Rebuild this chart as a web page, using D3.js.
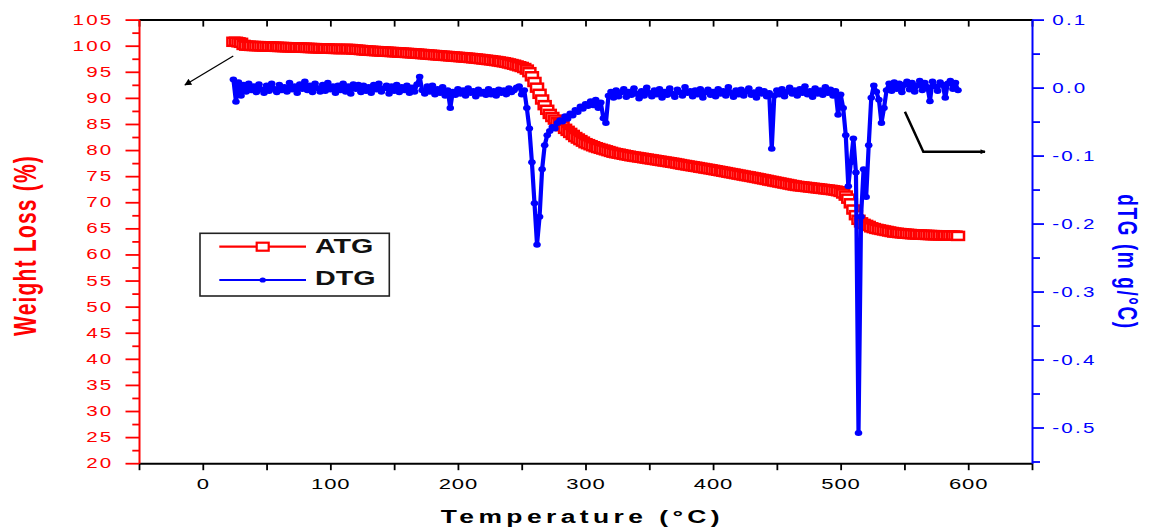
<!DOCTYPE html>
<html><head><meta charset="utf-8">
<script src="https://cdn.jsdelivr.net/npm/d3@7"></script>
<style>
html,body{margin:0;padding:0;background:#fff;}
svg{display:block;font-family:"Liberation Sans",Arial,sans-serif;}
</style></head><body>
<svg id="chart" width="1152" height="529"></svg>
<script>
// ---------------- data ----------------
const temperature = [
 24,26,28,30,32,34,36,38,40,42,
 44,46,48,50,52,54,56,58,60,62,
 64,66,68,70,72,74,76,78,80,82,
 84,86,88,90,92,94,96,98,100,102,
 104,106,108,110,112,114,116,118,120,122,
 124,126,128,130,132,134,136,138,140,142,
 144,146,148,150,152,154,156,158,160,162,
 164,166,168,170,172,174,176,178,180,182,
 184,186,188,190,192,194,196,198,200,202,
 204,206,208,210,212,214,216,218,220,222,
 224,226,228,230,232,234,236,238,240,242,
 244,246,248,250,252,254,256,258,260,262,
 264,266,268,270,272,274,276,278,280,282,
 284,286,288,290,292,294,296,298,300,302,
 304,306,308,310,312,314,316,318,320,322,
 324,326,328,330,332,334,336,338,340,342,
 344,346,348,350,352,354,356,358,360,362,
 364,366,368,370,372,374,376,378,380,382,
 384,386,388,390,392,394,396,398,400,402,
 404,406,408,410,412,414,416,418,420,422,
 424,426,428,430,432,434,436,438,440,442,
 444,446,448,450,452,454,456,458,460,462,
 464,466,468,470,472,474,476,478,480,482,
 484,486,488,490,492,494,496,498,500,502,
 504,506,508,510,512,514,516,518,520,522,
 524,526,528,530,532,534,536,538,540,542,
 544,546,548,550,552,554,556,558,560,562,
 564,566,568,570,572,574,576,578,580,582,
 584,586,588,590,592
];
// ATG, weight (%)
const atg = [
 100.75,100.75,100.65,100.55,100.15,100.01,99.99,99.96,99.94,99.92,
 99.91,99.89,99.87,99.86,99.84,99.82,99.8,99.78,99.76,99.75,
 99.73,99.71,99.7,99.69,99.67,99.65,99.63,99.62,99.6,99.58,
 99.56,99.54,99.53,99.51,99.49,99.47,99.46,99.44,99.42,99.4,
 99.39,99.37,99.35,99.37,99.39,99.37,99.35,99.29,99.25,99.22,
 99.17,99.12,99.07,99.05,99.02,98.99,98.96,98.93,98.9,98.87,
 98.85,98.82,98.79,98.76,98.73,98.7,98.67,98.64,98.61,98.58,
 98.55,98.52,98.48,98.44,98.4,98.36,98.32,98.28,98.24,98.2,
 98.16,98.12,98.08,98.05,98.01,97.97,97.93,97.89,97.85,97.81,
 97.77,97.73,97.69,97.64,97.59,97.54,97.49,97.43,97.37,97.31,
 97.25,97.2,97.13,97.06,96.98,96.9,96.82,96.72,96.6,96.48,
 96.36,96.21,96.06,95.92,95.72,95.42,94.93,94.14,93.05,91.96,
 90.78,89.69,88.61,87.72,86.93,86.34,85.84,85.35,84.96,84.56,
 84.07,83.68,83.29,82.9,82.5,82.21,81.91,81.62,81.32,81.13,
 80.93,80.73,80.54,80.39,80.24,80.1,79.95,79.8,79.65,79.5,
 79.4,79.31,79.21,79.11,79.01,78.92,78.82,78.75,78.67,78.59,
 78.52,78.44,78.36,78.28,78.2,78.13,78.05,77.97,77.89,77.81,
 77.74,77.66,77.58,77.5,77.41,77.31,77.21,77.14,77.05,76.97,
 76.89,76.81,76.73,76.63,76.56,76.47,76.39,76.31,76.22,76.13,
 76.04,75.95,75.86,75.77,75.67,75.58,75.5,75.4,75.3,75.22,
 75.12,75.03,74.95,74.86,74.76,74.67,74.57,74.47,74.38,74.28,
 74.17,74.08,73.98,73.88,73.79,73.69,73.59,73.5,73.4,73.3,
 73.21,73.13,73.07,73.02,72.96,72.9,72.84,72.78,72.72,72.67,
 72.61,72.55,72.49,72.43,72.37,72.31,72.23,72.12,71.98,71.68,
 71.28,70.69,69.8,68.61,67.53,66.64,66.15,65.86,65.66,65.46,
 65.2,65.05,64.9,64.8,64.7,64.6,64.5,64.4,64.3,64.2,
 64.15,64.1,64.05,64.0,63.96,63.92,63.88,63.85,63.82,63.8,
 63.78,63.76,63.74,63.72,63.7,63.69,63.68,63.67,63.66,63.65,
 63.64,63.63,63.62,63.6,63.55
];
// DTG, mg/°C
const dtg = [
 0.012,-0.021,0.008,-0.012,0.004,-0.006,0.006,-0.004,0.002,-0.007,
 0.005,-0.003,-0.008,0.003,-0.005,0.006,-0.002,-0.007,0.004,-0.004,
 0.001,-0.006,0.007,-0.003,0.002,-0.008,0.005,-0.002,0.009,-0.004,
 0.003,-0.007,0.006,-0.001,-0.006,0.004,-0.005,0.007,-0.003,0.002,
 -0.008,0.003,-0.004,0.006,-0.006,0.002,-0.009,0.005,-0.002,0.004,
 -0.007,0.003,-0.005,0.001,-0.008,0.004,-0.003,0.006,-0.006,-0.001,
 0.003,-0.009,0.002,-0.005,0.004,-0.007,0.001,-0.004,0.003,-0.008,
 0.0,-0.006,0.005,0.016,-0.004,-0.009,0.002,-0.006,0.003,-0.01,
 -0.002,-0.008,0.001,-0.012,-0.004,-0.03,-0.006,-0.011,-0.002,-0.009,
 -0.004,-0.012,-0.001,-0.008,-0.005,-0.013,-0.003,-0.009,-0.006,-0.011,
 -0.002,-0.01,-0.005,-0.012,-0.003,-0.008,-0.004,-0.01,-0.001,-0.007,
 -0.004,0.0,0.002,-0.01,-0.004,-0.03,-0.06,-0.11,-0.17,-0.231,
 -0.19,-0.12,-0.085,-0.07,-0.064,-0.058,-0.06,-0.052,-0.048,-0.05,
 -0.042,-0.046,-0.038,-0.041,-0.033,-0.036,-0.028,-0.031,-0.024,-0.027,
 -0.02,-0.026,-0.018,-0.03,-0.022,-0.045,-0.052,-0.012,-0.006,-0.015,
 -0.004,-0.013,-0.007,-0.002,-0.014,-0.006,-0.011,-0.001,-0.009,-0.016,
 -0.005,-0.012,0.0,-0.008,-0.013,-0.004,-0.01,-0.002,-0.015,-0.006,
 -0.011,-0.001,-0.009,-0.014,-0.003,-0.007,-0.012,0.001,-0.008,-0.005,
 -0.013,-0.004,-0.01,-0.002,-0.015,-0.007,-0.003,-0.011,-0.006,-0.013,
 -0.002,-0.009,-0.005,-0.012,0.001,-0.008,-0.014,-0.004,-0.01,-0.003,
 -0.012,-0.006,-0.001,-0.011,-0.007,-0.015,-0.003,-0.009,-0.005,-0.013,
 -0.008,-0.09,-0.012,-0.004,-0.01,-0.002,-0.013,-0.006,0.0,-0.009,
 -0.004,-0.012,-0.002,-0.008,0.002,-0.01,-0.005,-0.014,-0.001,-0.009,
 -0.004,-0.011,0.001,-0.008,-0.003,-0.012,-0.005,-0.04,-0.01,-0.03,
 -0.07,-0.145,-0.11,-0.075,-0.125,-0.508,-0.19,-0.12,-0.161,-0.085,
 -0.015,0.003,-0.006,-0.018,-0.052,-0.03,-0.004,0.006,-0.005,0.008,
 -0.002,0.006,-0.007,0.004,0.009,-0.003,0.007,-0.006,0.003,0.01,
 -0.004,0.007,0.001,-0.02,0.009,0.002,-0.005,0.008,0.004,-0.015,
 0.006,0.01,-0.002,0.007,-0.004
];
const seriesNames = ["ATG", "DTG"];
const xTicks = [0,100,200,300,400,500,600];
const xAllTicks = [-50,0,50,100,150,200,250,300,350,400,450,500,550,600,650];
const leftTicks = [20,25,30,35,40,45,50,55,60,65,70,75,80,85,90,95,100,105];
const leftMinorTicks = [22.5,27.5,32.5,37.5,42.5,47.5,52.5,57.5,62.5,67.5,72.5,77.5,82.5,87.5,92.5,97.5,102.5];
const rightTicks = [0.1,0.0,-0.1,-0.2,-0.3,-0.4,-0.5];
const rightTickLabels = ["0.1","0.0","-0.1","-0.2","-0.3","-0.4","-0.5"];
const rightMinorTicks = [0.05,-0.05,-0.15,-0.25,-0.35,-0.45,-0.55];
// annotation arrows, in data units
const arrowATG = [[23.9,98.03],[-14,92.47]];            // (°C, %)
const arrowDTG = [[550.4,-0.0355],[564.8,-0.0943],[613.2,-0.0943]]; // (°C, mg/°C)

// ---------------- layout ----------------
const W = 1152, H = 529;
const m = {left:139, right:1032, top:19.6, bottom:463.2};
const SX = 1.47; // horizontal stretch of the original artwork
const RED = "#ff0000", BLUE = "#0000ff";
const FONT = '"Liberation Sans",Arial,sans-serif';

const x = d3.scaleLinear().domain([-50,650]).range([m.left,m.right]);
const yL = d3.scaleLinear().domain([20,105]).range([m.bottom,m.top]);
const yR = d3.scaleLinear().domain([-0.5525,0.1]).range([m.bottom,m.top]);

const svg = d3.select("#chart");
svg.append("rect").attr("width",W).attr("height",H).attr("fill","#fff");

const defs = svg.append("defs");
defs.append("marker").attr("id","ahThin").attr("viewBox","0 0 10 10").attr("refX",9).attr("refY",5)
  .attr("markerWidth",10).attr("markerHeight",7).attr("markerUnits","userSpaceOnUse").attr("orient","auto")
  .append("path").attr("d","M0,0 L10,5 L0,10 z").attr("fill","#000");
defs.append("marker").attr("id","ahThick").attr("viewBox","0 0 10 10").attr("refX",9).attr("refY",5)
  .attr("markerWidth",9).attr("markerHeight",5).attr("markerUnits","userSpaceOnUse").attr("orient","auto")
  .append("path").attr("d","M0,0 L10,5 L0,10 z").attr("fill","#000");

// ---------------- ATG ----------------
const atgData = temperature.map((t,i)=>({t, v:atg[i]}));
const dtgData = temperature.map((t,i)=>({t, v:dtg[i]}));

svg.append("path").datum(atgData)
  .attr("d", d3.line().x(d=>x(d.t)).y(d=>yL(d.v)))
  .attr("fill","none").attr("stroke",RED).attr("stroke-width",2);
svg.append("g").selectAll("rect").data(atgData).join("rect")
  .attr("x", d=>x(d.t)-6).attr("y", d=>yL(d.v)-4)
  .attr("width",12).attr("height",8)
  .attr("fill","#fff").attr("stroke",RED).attr("stroke-width",2.5);

// ---------------- DTG ----------------
svg.append("path").datum(dtgData)
  .attr("d", d3.line().x(d=>x(d.t)).y(d=>yR(d.v)))
  .attr("fill","none").attr("stroke",BLUE).attr("stroke-width",4.2)
  .attr("stroke-linejoin","round");
svg.append("g").selectAll("ellipse").data(dtgData).join("ellipse")
  .attr("cx", d=>x(d.t)).attr("cy", d=>yR(d.v)).attr("rx",3.8).attr("ry",3)
  .attr("fill",BLUE);

// ---------------- axes ----------------
function styleAxis(g, color, width){
  g.select(".domain").attr("stroke",color).attr("stroke-width",width);
  g.selectAll(".tick line").attr("stroke",color).attr("stroke-width",1.8);
  g.selectAll(".tick text").remove();
}
// bottom
const gB = svg.append("g").attr("transform",`translate(0,${m.bottom})`)
  .call(d3.axisBottom(x).tickValues(xAllTicks).tickSize(7).tickSizeOuter(0));
styleAxis(gB,"#000",2);
// top
const gT = svg.append("g").attr("transform",`translate(0,${m.top})`)
  .call(d3.axisTop(x).tickValues(xAllTicks).tickSize(-7).tickSizeOuter(0));
styleAxis(gT,"#000",2);
// left
const gL = svg.append("g").attr("transform",`translate(${m.left},0)`)
  .call(d3.axisLeft(yL).tickValues(leftTicks).tickSize(13.5).tickSizeOuter(0));
styleAxis(gL,RED,2);
const gLm = svg.append("g").attr("transform",`translate(${m.left},0)`)
  .call(d3.axisLeft(yL).tickValues(leftMinorTicks).tickSize(6.7).tickSizeOuter(0));
gLm.select(".domain").remove();
styleAxis(gLm,RED,2);
// right
const gR = svg.append("g").attr("transform",`translate(${m.right},0)`)
  .call(d3.axisRight(yR).tickValues(rightTicks).tickSize(12).tickSizeOuter(0));
styleAxis(gR,BLUE,2);
const gRm = svg.append("g").attr("transform",`translate(${m.right},0)`)
  .call(d3.axisRight(yR).tickValues(rightMinorTicks).tickSize(8).tickSizeOuter(0));
gRm.select(".domain").remove();
styleAxis(gRm,BLUE,2);

// tick labels (stretched horizontally like the original artwork)
const labels = svg.append("g").attr("font-family",FONT);
labels.selectAll("text.xl").data(xTicks).join("text").attr("class","xl")
  .attr("transform",d=>`translate(${x(d)+0.4},489) scale(${SX},1)`)
  .attr("text-anchor","middle").attr("font-size",15).attr("letter-spacing",0.6)
  .attr("fill","#000").text(d=>String(d));
labels.selectAll("text.yl").data(leftTicks).join("text").attr("class","yl")
  .attr("transform",d=>`translate(113.5,${yL(d)+5}) scale(${SX},1)`)
  .attr("text-anchor","end").attr("font-size",14).attr("letter-spacing",1.5)
  .attr("fill",RED).text(d=>String(d));
labels.selectAll("text.yr").data(rightTicks).join("text").attr("class","yr")
  .attr("transform",d=>`translate(1052.3,${yR(d)+5}) scale(${SX},1)`)
  .attr("text-anchor","start").attr("font-size",14).attr("letter-spacing",1.5)
  .attr("fill",BLUE).text((d,i)=>rightTickLabels[i]);

// ---------------- titles ----------------
svg.append("text")
  .attr("transform",`translate(582.4,523.3) scale(${SX},1)`)
  .attr("text-anchor","middle").attr("font-weight","bold").attr("font-size",18)
  .attr("letter-spacing",3).attr("fill","#000")
  .text("Temperature (°C)");
svg.append("text")
  .attr("transform",`translate(35.5,245.5) rotate(-90) scale(1,${SX})`)
  .attr("text-anchor","middle").attr("font-weight","bold").attr("font-size",21)
  .attr("letter-spacing",1.2).attr("fill",RED)
  .text("Weight Loss (%)");
svg.append("text")
  .attr("transform",`translate(1118,262) rotate(90) scale(1,${SX})`)
  .attr("text-anchor","middle").attr("font-weight","bold").attr("font-size",19)
  .attr("letter-spacing",1.6).attr("fill",BLUE)
  .text("dTG (m g/°C)");

// ---------------- arrows ----------------
svg.append("path").datum(arrowATG)
  .attr("d", d3.line().x(d=>x(d[0])).y(d=>yL(d[1])))
  .attr("fill","none").attr("stroke","#000").attr("stroke-width",1.3)
  .attr("marker-end","url(#ahThin)");
svg.append("path").datum(arrowDTG)
  .attr("d", d3.line().x(d=>x(d[0])).y(d=>yR(d[1])))
  .attr("fill","none").attr("stroke","#000").attr("stroke-width",2.5)
  .attr("marker-end","url(#ahThick)");

// ---------------- legend ----------------
const lg = svg.append("g");
lg.append("rect").attr("x",200).attr("y",233.3).attr("width",189.3).attr("height",62.7)
  .attr("fill","#fff").attr("stroke","#222").attr("stroke-width",1.6);
const legendRows = [
  {name:seriesNames[0], color:RED, y:246.7, ty:253.3, kind:"square"},
  {name:seriesNames[1], color:BLUE, y:280, ty:285.3, kind:"dot"}
];
legendRows.forEach(r=>{
  lg.append("line").attr("x1",219.3).attr("x2",306).attr("y1",r.y).attr("y2",r.y)
    .attr("stroke",r.color).attr("stroke-width",2.2);
  if(r.kind==="square"){
    lg.append("rect").attr("x",262.7-6).attr("y",r.y-4).attr("width",12).attr("height",8)
      .attr("fill","#fff").attr("stroke",r.color).attr("stroke-width",2.2);
  } else {
    lg.append("ellipse").attr("cx",262.7).attr("cy",r.y).attr("rx",3.2).attr("ry",2.6).attr("fill",r.color);
  }
  lg.append("text").attr("transform",`translate(315,${r.ty}) scale(${SX},1)`)
    .attr("font-weight","bold").attr("font-size",19.5).attr("fill","#111")
    .attr("font-family",FONT)
    .text(r.name);
});
</script>
</body></html>
